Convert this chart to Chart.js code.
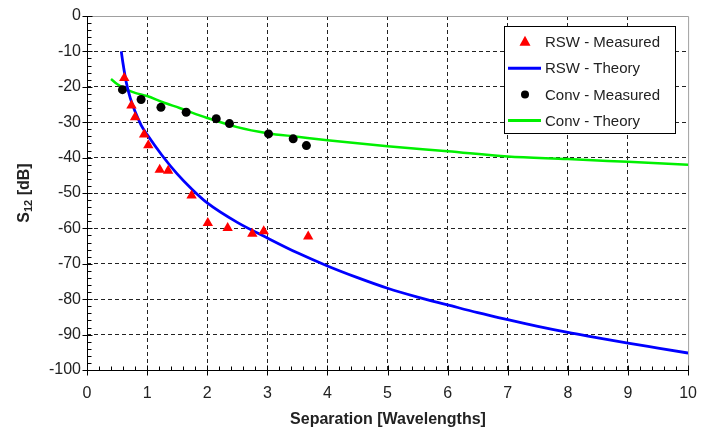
<!DOCTYPE html>
<html>
<head>
<meta charset="utf-8">
<script src="https://cdn.jsdelivr.net/npm/chart.js@4/dist/chart.umd.min.js"></script>
<style>
  html, body { margin: 0; padding: 0; background: #fff; }
  #wrap { width: 711px; height: 432px; }
</style>
</head>
<body>
<div id="wrap"><canvas id="chart" width="711" height="432"></canvas></div>
<script>
// measured points
const rswMeasX = [0.62, 0.74, 0.80, 0.95, 1.02, 1.21, 1.35, 1.74, 2.01, 2.34, 2.75, 2.94, 3.68];
const rswMeasY = [-17.5, -25.3, -28.6, -33.5, -36.5, -43.4, -43.7, -50.7, -58.5, -59.9, -61.5, -60.8, -62.3];
const convMeasX = [0.59, 0.90, 1.23, 1.65, 2.15, 2.37, 3.02, 3.43, 3.65];
const convMeasY = [-20.8, -23.6, -25.8, -27.2, -29.0, -30.4, -33.3, -34.7, -36.6];

// theory curves, sampled along the drawn lines
const rswTheoryX = [0.57, 0.6, 0.65, 0.72, 0.8, 0.9, 1.0, 1.25, 1.5, 1.75, 2.0, 2.5, 3.0, 3.5, 4.0, 4.5, 5.0, 5.5, 6.0, 6.5, 7.0, 7.5, 8.0, 8.5, 9.0, 9.5, 10.0];
const rswTheoryY = [-10, -13.5, -18.5, -23.2, -27, -30.8, -33.5, -39.4, -44.6, -49, -52.8, -58.3, -62.7, -66.9, -70.6, -73.9, -76.9, -79.4, -81.6, -83.8, -85.8, -87.7, -89.4, -90.9, -92.4, -93.8, -95.2];
const convTheoryX = [0.4, 0.5, 0.66, 0.8, 1.0, 1.25, 1.54, 2.0, 2.5, 3.0, 3.5, 4.0, 5.0, 6.0, 7.0, 8.0, 9.0, 10.0];
const convTheoryY = [-17.8, -19.2, -20.8, -21.7, -22.6, -24.3, -26.0, -28.8, -31.4, -33.1, -34.1, -35.1, -36.8, -38.2, -39.7, -40.4, -41.2, -42.0];

const seriesNames = ['RSW - Measured', 'RSW - Theory', 'Conv - Measured', 'Conv - Theory'];
const xTitle = 'Separation [Wavelengths]';

function pts(xs, ys) {
    return xs.map((x, i) => ({ x: x, y: ys[i] }));
}

const FONT = '"Liberation Sans", Arial, sans-serif';

// axes, ticks (major + minor), plot frame
const axesPlugin = {
    id: 'axes',
    beforeDatasetsDraw(chart) {
        const { ctx, chartArea: a, scales: { x, y } } = chart;
        ctx.save();
        // gray frame on top and right
        ctx.strokeStyle = '#a0a0a0';
        ctx.lineWidth = 1;
        ctx.beginPath();
        ctx.moveTo(a.left, a.top + 0.5);
        ctx.lineTo(a.right + 0.5, a.top + 0.5);
        ctx.lineTo(a.right + 0.5, a.bottom);
        ctx.stroke();

        ctx.strokeStyle = '#000';
        ctx.beginPath();
        const bx = Math.round(a.left) + 0.5;
        const by = Math.round(a.bottom) + 0.5;
        ctx.moveTo(bx, a.top);
        ctx.lineTo(bx, by);
        ctx.lineTo(a.right, by);
        // y ticks
        for (let v = 0; v >= -100; v -= 2) {
            const py = Math.round(y.getPixelForValue(v)) + 0.5;
            if (v % 10 === 0) {
                ctx.moveTo(bx - 5, py);
                ctx.lineTo(bx + 5, py);
            } else {
                ctx.moveTo(bx, py);
                ctx.lineTo(bx + 4, py);
            }
        }
        // x ticks
        for (let k = 0; k <= 50; k++) {
            const px = Math.round(x.getPixelForValue(k / 5)) + 0.5;
            if (k % 5 === 0) {
                ctx.moveTo(px, by - 5);
                ctx.lineTo(px, by + 5);
            } else {
                ctx.moveTo(px, by);
                ctx.lineTo(px, by - 4);
            }
        }
        ctx.stroke();
        ctx.restore();
    }
};

// axis titles and the boxed legend
const textPlugin = {
    id: 'texts',
    afterDraw(chart) {
        const ctx = chart.ctx;
        ctx.save();
        ctx.fillStyle = '#222';
        ctx.textBaseline = 'middle';

        // x title
        ctx.font = 'bold 16px ' + FONT;
        ctx.textAlign = 'center';
        ctx.fillText(xTitle, 388, 420);

        // y title with subscript
        ctx.translate(25, 193);
        ctx.rotate(-Math.PI / 2);
        const big = 'bold 16px ' + FONT, small = 'bold 11px ' + FONT;
        ctx.font = big;
        const wS = ctx.measureText('S').width;
        const wRest = ctx.measureText(' [dB]').width;
        ctx.font = small;
        const wSub = ctx.measureText('12').width;
        let tx = -(wS + wSub + wRest) / 2;
        ctx.textAlign = 'left';
        ctx.font = big;
        ctx.fillText('S', tx, 0);
        tx += wS;
        ctx.font = small;
        ctx.fillText('12', tx, 4);
        tx += wSub;
        ctx.font = big;
        ctx.fillText(' [dB]', tx, 0);
        ctx.setTransform(1, 0, 0, 1, 0, 0);

        // legend
        const lx = 504.5, ly = 26.5, lw = 171, lh = 107;
        ctx.fillStyle = '#fff';
        ctx.fillRect(lx, ly, lw, lh);
        ctx.strokeStyle = '#000';
        ctx.lineWidth = 1;
        ctx.strokeRect(lx, ly, lw, lh);
        const rows = [41.7, 68.2, 94.6, 120.5];
        ctx.font = '15px ' + FONT;
        rows.forEach((ry, i) => {
            const ds = chart.data.datasets[i];
            if (ds.showLine) {
                ctx.strokeStyle = ds.borderColor;
                ctx.lineWidth = 3;
                ctx.beginPath();
                ctx.moveTo(508, ry);
                ctx.lineTo(541, ry);
                ctx.stroke();
            } else if (ds.pointStyle === 'triangle') {
                ctx.fillStyle = ds.backgroundColor;
                ctx.beginPath();
                ctx.moveTo(525, ry - 6);
                ctx.lineTo(530.5, ry + 4);
                ctx.lineTo(519.5, ry + 4);
                ctx.closePath();
                ctx.fill();
            } else {
                ctx.fillStyle = ds.backgroundColor;
                ctx.beginPath();
                ctx.arc(525, ry, 4, 0, Math.PI * 2);
                ctx.fill();
            }
            ctx.fillStyle = '#222';
            ctx.textAlign = 'left';
            ctx.fillText(ds.label, 545, ry + 1);
        });
        ctx.restore();
    }
};

const gridLine = (edge) => (c) => (c.tick && c.tick.value === edge[0]) || (c.tick && c.tick.value === edge[1]) ? 'rgba(0,0,0,0)' : '#222';

new Chart(document.getElementById('chart'), {
    type: 'scatter',
    data: {
        datasets: [
            {
                label: seriesNames[0],
                data: pts(rswMeasX, rswMeasY),
                pointStyle: 'triangle',
                pointRadius: 6,
                backgroundColor: '#ff0000',
                borderColor: '#ff0000',
                borderWidth: 0,
                showLine: false
            },
            {
                label: seriesNames[1],
                data: pts(rswTheoryX, rswTheoryY),
                showLine: true,
                borderColor: '#0000ff',
                backgroundColor: '#0000ff',
                borderWidth: 2.8,
                pointRadius: 0,
                cubicInterpolationMode: 'monotone'
            },
            {
                label: seriesNames[2],
                data: pts(convMeasX, convMeasY),
                pointStyle: 'circle',
                pointRadius: 4.5,
                backgroundColor: '#000000',
                borderColor: '#000000',
                borderWidth: 0,
                showLine: false
            },
            {
                label: seriesNames[3],
                data: pts(convTheoryX, convTheoryY),
                showLine: true,
                borderColor: '#00f000',
                backgroundColor: '#00f000',
                borderWidth: 2.5,
                pointRadius: 0,
                cubicInterpolationMode: 'monotone'
            }
        ]
    },
    options: {
        responsive: false,
        animation: false,
        layout: { padding: { left: 0, top: 16, right: 22, bottom: 0 } },
        plugins: {
            legend: { display: false },
            tooltip: { enabled: false }
        },
        scales: {
            x: {
                type: 'linear',
                min: 0,
                max: 10,
                afterFit(scale) { scale.height = 62; },
                ticks: {
                    stepSize: 1,
                    padding: 14,
                    color: '#222',
                    font: { family: FONT, size: 16 }
                },
                grid: {
                    drawTicks: false,
                    color: gridLine([0, 10]),
                    lineWidth: 1
                },
                border: { display: false, dash: [4, 3] }
            },
            y: {
                type: 'linear',
                min: -100,
                max: 0,
                afterFit(scale) { scale.width = 87; },
                ticks: {
                    stepSize: 10,
                    padding: 6,
                    color: '#222',
                    font: { family: FONT, size: 16 }
                },
                grid: {
                    drawTicks: false,
                    color: gridLine([0, -100]),
                    lineWidth: 1
                },
                border: { display: false, dash: [4, 3] }
            }
        }
    },
    plugins: [axesPlugin, textPlugin]
});
</script>
</body>
</html>
